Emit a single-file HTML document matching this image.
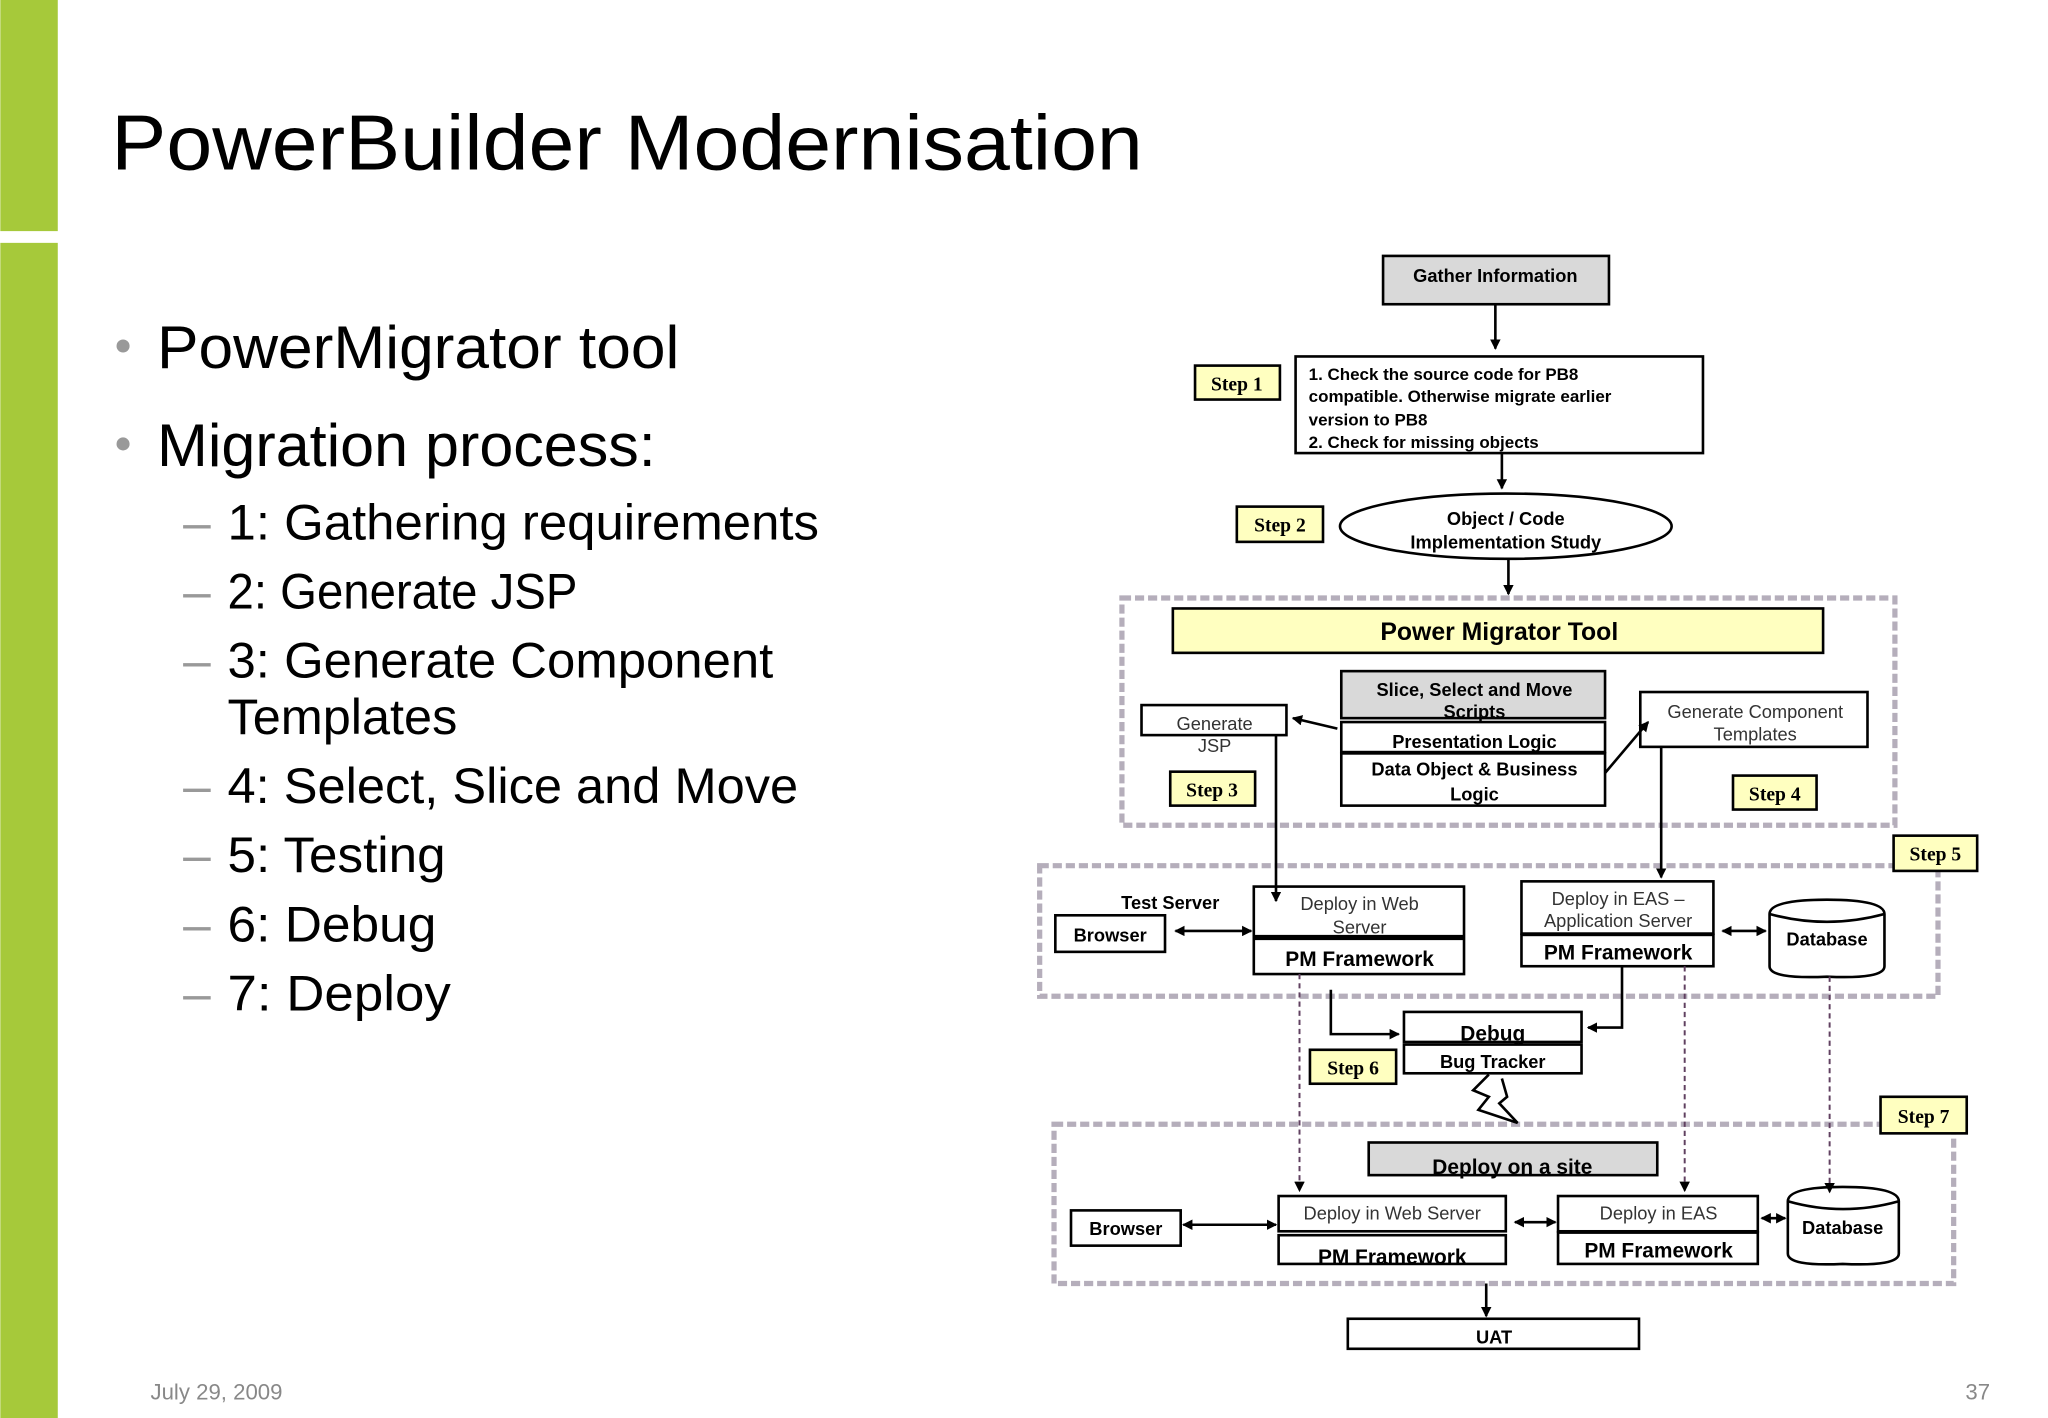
<!DOCTYPE html>
<html><head><meta charset="utf-8"><style>
html,body{margin:0;padding:0;background:#fff;width:2048px;height:1418px;overflow:hidden}
svg{display:block}
</style></head><body>
<svg width="2048" height="1418" viewBox="0 0 1568 1086" xmlns="http://www.w3.org/2000/svg" font-family="Liberation Sans, Arial, sans-serif">
<defs>
<marker id="a" markerWidth="8" markerHeight="8" refX="7" refY="4" orient="auto" markerUnits="userSpaceOnUse"><path d="M0,0 L8,4 L0,8 z" fill="#000"/></marker>
<marker id="as" markerWidth="8" markerHeight="8" refX="1" refY="4" orient="auto" markerUnits="userSpaceOnUse"><path d="M8,0 L0,4 L8,8 z" fill="#000"/></marker>
</defs>
<rect x="0" y="0" width="44" height="177" fill="#a6c93a"/>
<rect x="0" y="186" width="44" height="900" fill="#a6c93a"/>
<text x="85" y="130" font-size="60" fill="#000" textLength="790" lengthAdjust="spacingAndGlyphs">PowerBuilder Modernisation</text>
<g font-size="46" fill="#000">
<circle cx="94" cy="265" r="5" fill="#999"/><text x="120" y="282" textLength="400" lengthAdjust="spacingAndGlyphs">PowerMigrator tool</text>
<circle cx="94" cy="340" r="5" fill="#999"/><text x="120" y="357" textLength="382" lengthAdjust="spacingAndGlyphs">Migration process:</text>
</g>
<g font-size="38" fill="#000">
<text x="140" y="413" fill="#999">–</text><text x="174" y="413" textLength="453" lengthAdjust="spacingAndGlyphs">1: Gathering requirements</text>
<text x="140" y="466" fill="#999">–</text><text x="174" y="466" textLength="268" lengthAdjust="spacingAndGlyphs">2: Generate JSP</text>
<text x="140" y="519" fill="#999">–</text><text x="174" y="519" textLength="418" lengthAdjust="spacingAndGlyphs">3: Generate Component</text>
<text x="174" y="562" textLength="176" lengthAdjust="spacingAndGlyphs">Templates</text>
<text x="140" y="615" fill="#999">–</text><text x="174" y="615" textLength="437" lengthAdjust="spacingAndGlyphs">4: Select, Slice and Move</text>
<text x="140" y="668" fill="#999">–</text><text x="174" y="668" textLength="167" lengthAdjust="spacingAndGlyphs">5: Testing</text>
<text x="140" y="721" fill="#999">–</text><text x="174" y="721" textLength="160" lengthAdjust="spacingAndGlyphs">6: Debug</text>
<text x="140" y="774" fill="#999">–</text><text x="174" y="774" textLength="171" lengthAdjust="spacingAndGlyphs">7: Deploy</text>
</g>
<text x="115" y="1072" font-size="17" fill="#888">July 29, 2009</text>
<text x="1505" y="1072" font-size="17" fill="#888">37</text>

<g fill="none" stroke="#b5aebb" stroke-width="4" stroke-dasharray="7,3">
<rect x="859" y="458" width="592" height="174"/>
<rect x="796" y="663" width="688" height="100"/>
<rect x="807" y="861" width="689" height="122"/>
</g>

<g stroke="#000" stroke-width="2" font-weight="bold" font-size="14" text-anchor="middle">
<rect x="1059" y="196" width="173" height="37" fill="#d9d9d9"/>
<text x="1145" y="216" stroke="none">Gather Information</text>
<rect x="915" y="280" width="65" height="26" fill="#ffffc0"/>
<rect x="992" y="273" width="312" height="74" fill="#fff"/>
<rect x="947" y="388" width="66" height="27" fill="#ffffc0"/>
<ellipse cx="1153" cy="403" rx="127" ry="25" fill="#fff"/>
<text x="1153" y="402" stroke="none">Object / Code</text>
<text x="1153" y="420" stroke="none">Implementation Study</text>
<rect x="898" y="466" width="498" height="34" fill="#ffffc0"/>
<text x="1148" y="490" stroke="none" font-size="19">Power Migrator Tool</text>
<rect x="1027" y="514" width="202" height="36" fill="#d9d9d9"/>
<text x="1129" y="533" stroke="none">Slice, Select and Move</text>
<text x="1129" y="550" stroke="none">Scripts</text>
<rect x="1027" y="553" width="202" height="23" fill="#fff"/>
<text x="1129" y="573" stroke="none">Presentation Logic</text>
<rect x="1027" y="577" width="202" height="40" fill="#fff"/>
<text x="1129" y="594" stroke="none">Data Object &amp; Business</text>
<text x="1129" y="613" stroke="none">Logic</text>
<rect x="874" y="540" width="111" height="23" fill="#fff"/>
<rect x="896" y="591" width="65" height="26" fill="#ffffc0"/>
<rect x="1256" y="530" width="174" height="42" fill="#fff"/>
<rect x="1327" y="594" width="64" height="26" fill="#ffffc0"/>
<rect x="1450" y="640" width="64" height="27" fill="#ffffc0"/>
<rect x="808" y="701" width="84" height="28" fill="#fff"/>
<text x="850" y="721" stroke="none">Browser</text>
<text x="896" y="696" stroke="none">Test Server</text>
<rect x="960" y="679" width="161" height="38" fill="#fff"/>
<rect x="960" y="719" width="161" height="27" fill="#fff"/>
<text x="1041" y="740" stroke="none" font-size="16">PM Framework</text>
<rect x="1165" y="675" width="147" height="40" fill="#fff"/>
<rect x="1165" y="716" width="147" height="24" fill="#fff"/>
<text x="1239" y="735" stroke="none" font-size="16">PM Framework</text>
<path d="M1355,700 Q1355,689 1399,689 Q1443,689 1443,700 L1443,740 Q1443,750 1399,748 Q1355,750 1355,740 Z" fill="#fff"/>
<path d="M1355,700 Q1399,712 1443,700" fill="none"/>
<text x="1399" y="724" stroke="none">Database</text>
<rect x="1075" y="775" width="136" height="23" fill="#fff"/>
<text x="1143" y="797" stroke="none" font-size="16">Debug</text>
<rect x="1075" y="800" width="136" height="22" fill="#fff"/>
<text x="1143" y="818" stroke="none">Bug Tracker</text>
<rect x="1003" y="804" width="66" height="26" fill="#ffffc0"/>
<rect x="1440" y="840" width="66" height="28" fill="#ffffc0"/>
<rect x="1048" y="875" width="221" height="25" fill="#d9d9d9"/>
<text x="1158" y="899" stroke="none" font-size="16">Deploy on a site</text>
<rect x="820" y="927" width="84" height="27" fill="#fff"/>
<text x="862" y="946" stroke="none">Browser</text>
<rect x="979" y="916" width="174" height="27" fill="#fff"/>
<rect x="979" y="946" width="174" height="22" fill="#fff"/>
<text x="1066" y="968" stroke="none" font-size="16">PM Framework</text>
<rect x="1193" y="916" width="153" height="27" fill="#fff"/>
<rect x="1193" y="944" width="153" height="24" fill="#fff"/>
<text x="1270" y="963" stroke="none" font-size="16">PM Framework</text>
<path d="M1369,920 Q1369,909 1411,909 Q1454,909 1454,920 L1454,960 Q1454,970 1411,968 Q1369,970 1369,960 Z" fill="#fff"/>
<path d="M1369,920 Q1411,932 1454,920" fill="none"/>
<text x="1411" y="945" stroke="none">Database</text>
<rect x="1032" y="1010" width="223" height="23" fill="#fff"/>
<text x="1144" y="1029" stroke="none">UAT</text>
</g>

<g font-family="Liberation Serif, serif" font-weight="bold" font-size="15" text-anchor="middle">
<text x="947" y="299">Step 1</text>
<text x="980" y="407">Step 2</text>
<text x="928" y="610">Step 3</text>
<text x="1359" y="613">Step 4</text>
<text x="1482" y="659">Step 5</text>
<text x="1036" y="823">Step 6</text>
<text x="1473" y="860">Step 7</text>
</g>

<g font-size="13" font-weight="bold">
<text x="1002" y="291">1. Check the source code for PB8</text>
<text x="1002" y="308">compatible. Otherwise migrate earlier</text>
<text x="1002" y="326">version to PB8</text>
<text x="1002" y="343">2. Check for missing objects</text>
</g>
<g font-size="14" fill="#333" text-anchor="middle">
<text x="930" y="559">Generate</text>
<text x="930" y="576">JSP</text>
<text x="1344" y="550">Generate Component</text>
<text x="1344" y="567">Templates</text>
<text x="1041" y="697">Deploy in Web</text>
<text x="1041" y="715">Server</text>
<text x="1239" y="693">Deploy in EAS –</text>
<text x="1239" y="710">Application Server</text>
<text x="1066" y="934">Deploy in Web Server</text>
<text x="1270" y="934">Deploy in EAS</text>
</g>

<g stroke="#000" stroke-width="2" fill="none">
<line x1="1145" y1="233" x2="1145" y2="267" marker-end="url(#a)"/>
<line x1="1150" y1="347" x2="1150" y2="374" marker-end="url(#a)"/>
<line x1="1155" y1="428" x2="1155" y2="455" marker-end="url(#a)"/>
<line x1="1024" y1="558" x2="990" y2="550" marker-end="url(#a)"/>
<line x1="1229" y1="592" x2="1262" y2="553" marker-end="url(#a)"/>
<line x1="977" y1="563" x2="977" y2="690" marker-end="url(#a)"/>
<line x1="1272" y1="572" x2="1272" y2="672" marker-end="url(#a)"/>
<line x1="900" y1="713" x2="958" y2="713" marker-end="url(#a)" marker-start="url(#as)"/>
<line x1="1319" y1="713" x2="1352" y2="713" marker-end="url(#a)" marker-start="url(#as)"/>
<polyline points="1019,758 1019,792 1071,792" marker-end="url(#a)"/>
<polyline points="1242,740 1242,787 1216,787" marker-end="url(#a)"/>
<polyline points="906,938 977,938" marker-end="url(#a)" marker-start="url(#as)"/>
<line x1="1160" y1="936" x2="1191" y2="936" marker-end="url(#a)" marker-start="url(#as)"/>
<line x1="1349" y1="933" x2="1367" y2="933" marker-end="url(#a)" marker-start="url(#as)"/>
<line x1="1138" y1="983" x2="1138" y2="1008" marker-end="url(#a)"/>
<polyline points="1140,823 1128,835 1140,840 1132,850 1162,860 1148,845 1154,840 1150,826"/>
<g stroke="#604060" stroke-width="1.5" stroke-dasharray="4,3">
<line x1="995" y1="746" x2="995" y2="912" marker-end="url(#a)"/>
<line x1="1290" y1="740" x2="1290" y2="912" marker-end="url(#a)"/>
<line x1="1401" y1="748" x2="1401" y2="913" marker-end="url(#a)"/>
</g>
</g>
</svg>
</body></html>
